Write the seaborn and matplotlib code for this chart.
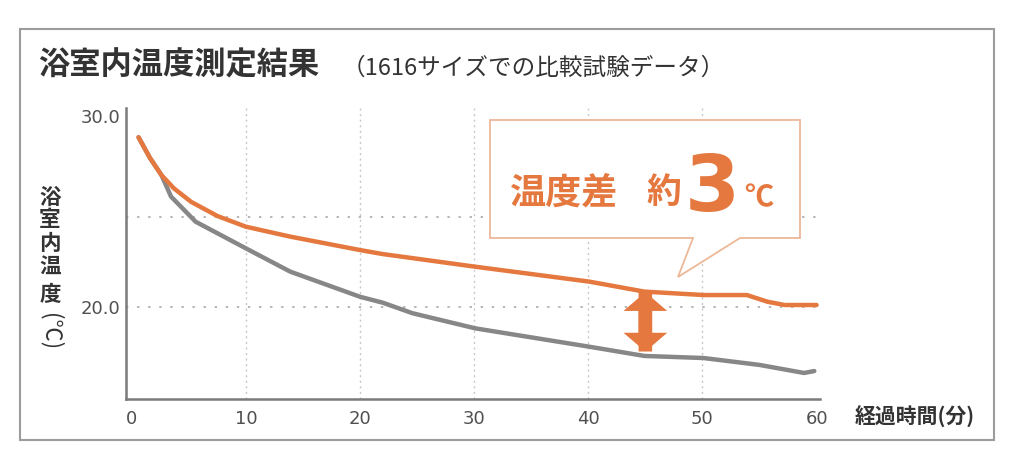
import numpy as np
import pandas as pd
import seaborn as sns
import matplotlib
matplotlib.use("Agg")
import matplotlib.pyplot as plt
from matplotlib.patches import Polygon, Rectangle

# ---------------- data ----------------
orange_minutes = [0.6, 1.6, 2.6, 3.7, 5.2, 7.5, 10.0, 13.9, 20.0, 22.0, 30.1, 40.1, 44.9, 50.1, 53.9, 55.7, 57.2, 60.0]
orange_temp = [28.89, 27.81, 26.92, 26.22, 25.52, 24.78, 24.22, 23.70, 23.00, 22.79, 22.13, 21.35, 20.83, 20.65, 20.65, 20.30, 20.13, 20.13]

gray_minutes = [0.6, 1.6, 2.6, 3.45, 5.6, 10.0, 13.9, 20.0, 22.0, 24.6, 30.1, 40.1, 44.9, 50.1, 55.0, 58.9, 59.8]
gray_temp = [28.89, 27.81, 26.92, 25.79, 24.48, 23.09, 21.87, 20.56, 20.25, 19.70, 18.91, 17.95, 17.47, 17.36, 17.00, 16.58, 16.68]

x_ticks = [0, 10, 20, 30, 40, 50, 60]
y_ticks = [20, 30]
y_tick_labels = ["20.0", "30.0"]
v_grid = [10, 20, 30, 40, 50]
h_grid = [20, 24.75]

arrow_x = 45
arrow_top = 20.8
arrow_bottom = 17.7

title = "浴室内温度測定結果"
subtitle = "（1616サイズでの比較試験データ）"
ylabel_chars = ["浴", "室", "内", "温", "度"]
ylabel_unit = "(℃)"
xlabel = "経過時間(分)"

ORANGE = "#E5783E"
GRAY = "#878787"
PEACH = "#EDB898"
TEXT = "#333333"

# ---------------- style ----------------
sns.set_theme(style="white")
plt.rcParams["font.family"] = ["Noto Sans CJK JP", "DejaVu Sans"]

W, H = 1024, 461
fig = plt.figure(figsize=(W / 100, H / 100), dpi=100)

def fx(px):
    return px / W

def fy(py):
    return 1 - py / H

ax = fig.add_axes([fx(126), fy(399), fx(820) - fx(126), fy(108) - fy(399)])

df_o = pd.DataFrame({"minutes": orange_minutes, "temp": orange_temp})
df_g = pd.DataFrame({"minutes": gray_minutes, "temp": gray_temp})

for v in v_grid:
    ax.axvline(v, color="#c8c8c8", lw=1.0, ls=(0, (1.5, 2.5)), zorder=0)
for h in h_grid:
    ax.axhline(h, color="#b5b5b5", lw=1.4, ls=(0, (1.2, 4.5)), zorder=0)

sns.lineplot(data=df_g, x="minutes", y="temp", ax=ax, color=GRAY, lw=3.2, zorder=3)
sns.lineplot(data=df_o, x="minutes", y="temp", ax=ax, color=ORANGE, lw=3.2, zorder=4)

ax.set_xlim(-0.5, 60.3)
ax.set_ylim(15.22, 30.42)
ax.set_xticks(x_ticks)
ax.set_xticklabels([str(t) for t in x_ticks])
ax.set_yticks(y_ticks)
ax.set_yticklabels(y_tick_labels)
ax.set_xlabel("")
ax.set_ylabel("")
ax.tick_params(axis="both", length=0, labelsize=13, labelcolor="#505050")
ax.tick_params(axis="x", pad=8)
ax.tick_params(axis="y", pad=4)
for lab in ax.get_xticklabels() + ax.get_yticklabels():
    lab.set_fontfamily(["DejaVu Sans"])
for s in ["top", "right"]:
    ax.spines[s].set_visible(False)
for s in ["left", "bottom"]:
    ax.spines[s].set_color("#7a7a7a")
    ax.spines[s].set_linewidth(1.8)
ax.patch.set_alpha(0)

# double-headed arrow: two full-length single-headed arrows overlapping
style = "simple,head_length=0.9,head_width=2.1,tail_width=0.65"
for start, end in ((arrow_bottom, arrow_top), (arrow_top, arrow_bottom)):
    ax.annotate("", xy=(arrow_x, end), xytext=(arrow_x, start),
                arrowprops=dict(arrowstyle=style, color=ORANGE, lw=0,
                                mutation_scale=15, shrinkA=0, shrinkB=0),
                zorder=6)

# outer frame
fig.add_artist(Rectangle((fx(20), fy(440)), fx(994) - fx(20), fy(29) - fy(440),
                         transform=fig.transFigure, fill=False,
                         edgecolor="#9c9c9c", lw=1.5))

# speech bubble
bubble_px = [(490, 120), (800, 120), (800, 238), (740, 238), (678, 277),
             (693, 238), (490, 238)]
fig.add_artist(Polygon([(fx(a), fy(b)) for a, b in bubble_px], closed=True,
                       transform=fig.transFigure, facecolor="white",
                       edgecolor=PEACH, lw=1.3, zorder=5))

fig.text(fx(510), fy(193), "温度差", fontsize=26, color=ORANGE, fontweight="bold",
         ha="left", va="center", zorder=6)
fig.text(fx(646), fy(193), "約", fontsize=25, color=ORANGE, fontweight="bold",
         ha="left", va="center", zorder=6)
fig.text(fx(685), fy(211), "3", fontsize=57, color=ORANGE, fontweight="bold",
         family=["DejaVu Sans"], ha="left", va="baseline", zorder=6)
fig.text(fx(744), fy(197), "℃", fontsize=21, color=ORANGE, fontweight="bold",
         ha="left", va="center", zorder=6)

# titles
fig.text(fx(38), fy(65), title, fontsize=22.5, color=TEXT, fontweight="bold",
         ha="left", va="center")
fig.text(fx(342), fy(68), subtitle, fontsize=17, color=TEXT,
         ha="left", va="center")

# y label, stacked vertically
char_y = [197, 220, 243, 267, 295]
for ch, py in zip(ylabel_chars, char_y):
    fig.text(fx(50), fy(py), ch, fontsize=15.5, color=TEXT, fontweight="bold",
             ha="center", va="center")
fig.text(fx(50), fy(332), ylabel_unit, fontsize=16, color=TEXT, rotation=-90,
         ha="center", va="center")

# x label
fig.text(fx(855), fy(417), xlabel, fontsize=15, color=TEXT, fontweight="bold",
         ha="left", va="center")

fig.savefig("out.png", dpi=100, facecolor="white")
